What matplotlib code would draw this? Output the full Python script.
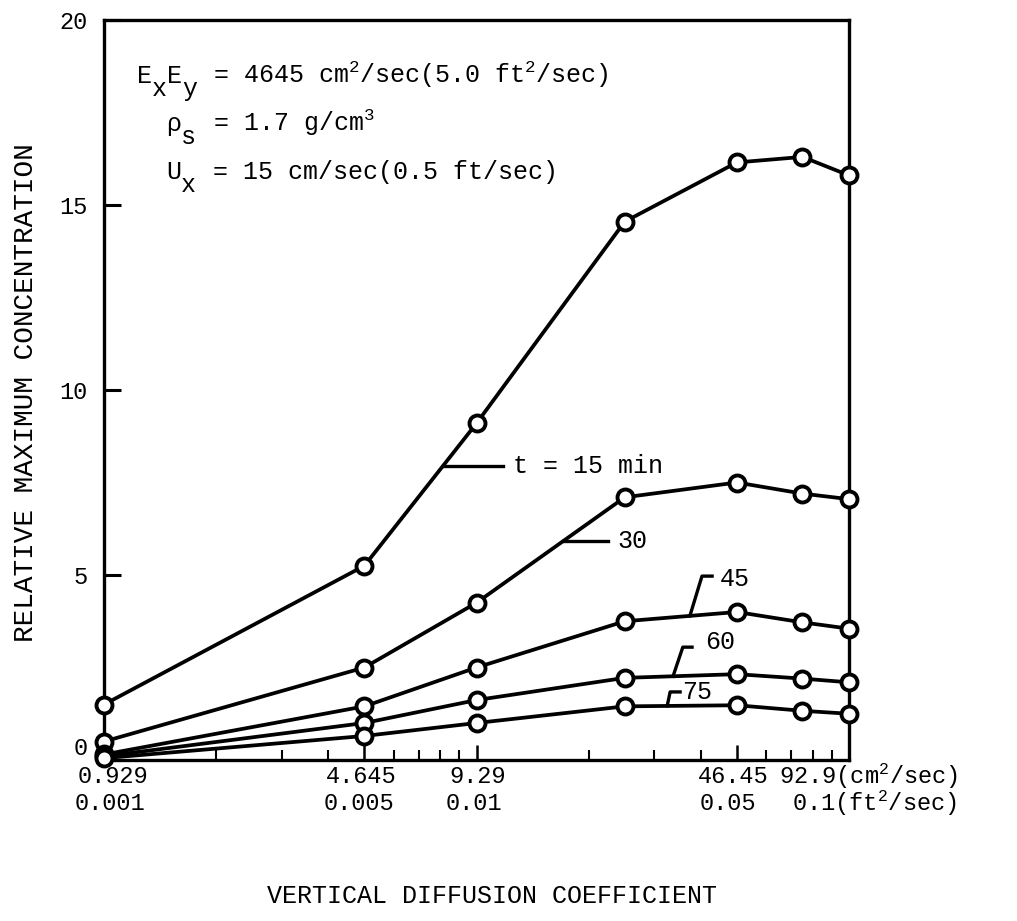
#!/usr/bin/env python3
import numpy as np
import matplotlib
matplotlib.use('Agg')
import matplotlib.pyplot as plt
from matplotlib.ticker import FixedLocator, NullFormatter
from matplotlib.transforms import ScaledTranslation

plt.rcParams['font.family'] = ['Liberation Mono', 'DejaVu Sans Mono']
plt.rcParams['mathtext.fontset'] = 'custom'
plt.rcParams['mathtext.rm'] = 'Liberation Mono'
plt.rcParams['mathtext.it'] = 'Liberation Mono'

# vertical diffusion coefficient (ft^2/sec)
x_ft = [0.001, 0.005, 0.01, 0.025, 0.05, 0.075, 0.1]

# relative maximum concentration for each time
conc_15 = [1.5, 5.25, 9.1, 14.55, 16.15, 16.3, 15.8]
conc_30 = [0.5, 2.5, 4.25, 7.1, 7.5, 7.2, 7.05]
conc_45 = [0.15, 1.45, 2.5, 3.75, 4.0, 3.72, 3.55]
conc_60 = [0.1, 1.0, 1.62, 2.22, 2.32, 2.2, 2.1]
conc_75 = [0.05, 0.65, 1.0, 1.45, 1.48, 1.33, 1.25]

# tick label text (two rows under the x axis)
cm_labels = ['0.929', '4.645', '9.29', '46.45']
ft_labels = ['0.001', '0.005', '0.01', '0.05']
ytick_vals = [0, 5, 10, 15, 20]

fig = plt.figure(figsize=(10.17, 9.21), dpi=100)
ax = fig.add_axes([0.1023, 0.1748, 0.7325, 0.8035])

curves = [conc_15, conc_30, conc_45, conc_60, conc_75]
for c in curves:
    ax.plot(x_ft, c, color='black', lw=2.7, marker='o', ms=11.5,
            mfc='white', mec='black', mew=2.8, clip_on=False, zorder=3)

ax.set_xscale('log')
ax.set_xlim(0.001, 0.1)
ax.set_ylim(0, 20)

# x ticks: labelled ones long, the rest short, all inward
ax.xaxis.set_major_locator(FixedLocator([0.001, 0.005, 0.01, 0.05, 0.1]))
minor = [m * d for d in (0.001, 0.01) for m in (2, 3, 4, 6, 7, 8, 9)]
ax.xaxis.set_minor_locator(FixedLocator(minor))
ax.xaxis.set_major_formatter(NullFormatter())
ax.xaxis.set_minor_formatter(NullFormatter())
ax.tick_params(axis='x', which='major', direction='in', length=11, width=1.8)
ax.tick_params(axis='x', which='minor', direction='in', length=7, width=1.5)

ax.set_yticks(ytick_vals)
ax.set_yticklabels([str(v) for v in ytick_vals], fontsize=17)
ax.tick_params(axis='y', direction='in', length=12, width=2.2, pad=12)
# the typed "0" sits a little above the axis line
lab0 = ax.get_yticklabels()[0]
lab0.set_transform(lab0.get_transform() + ScaledTranslation(0, 0.14, fig.dpi_scale_trans))

for s in ax.spines.values():
    s.set_linewidth(2.4)

# typed tick labels under the axis
row1_pos = [0.012, 0.345, 0.502, 0.845]
row2_pos = [0.008, 0.342, 0.497, 0.838]
for p, t in zip(row1_pos, cm_labels):
    ax.text(p, -0.022, t, transform=ax.transAxes, ha='center', va='center', fontsize=17)
for p, t in zip(row2_pos, ft_labels):
    ax.text(p, -0.059, t, transform=ax.transAxes, ha='center', va='center', fontsize=17)
ax.text(0.906, -0.022, r'92.9(cm$^\mathrm{2}$/sec)', transform=ax.transAxes,
        ha='left', va='center', fontsize=17)
ax.text(0.924, -0.059, r'0.1(ft$^\mathrm{2}$/sec)', transform=ax.transAxes,
        ha='left', va='center', fontsize=17)

fig.text(0.484, 0.027, 'VERTICAL DIFFUSION COEFFICIENT', ha='center', va='center', fontsize=18)
fig.text(0.026, 0.574, 'RELATIVE MAXIMUM CONCENTRATION', ha='center', va='center',
         rotation=90, fontsize=20)

# parameters (typewriter style: subscripts full size, dropped half a line)
ytr = ax.get_yaxis_transform()
drop = 0.36
col = 0.6 * 18 / 72 * 100 / (0.7325 * 1017)   # one monospace column in axes fraction
params = [(0.044, 18.3, ['E', 'x', 'E', 'y'], r'= 4645 cm$^\mathrm{2}$/sec(5.0 ft$^\mathrm{2}$/sec)'),
          (0.083, 17.0, ['ρ', 's'], r'= 1.7 g/cm$^\mathrm{3}$'),
          (0.083, 15.7, ['U', 'x'], r'= 15 cm/sec(0.5 ft/sec)')]
for xs, yb, chars, rest in params:
    for i, ch in enumerate(chars):
        yy = yb - drop if i % 2 else yb
        ax.text(xs + i * col, yy, ch, transform=ytr, ha='left', va='baseline', fontsize=18)
    ax.text(0.146, yb, rest, transform=ytr, ha='left', va='baseline', fontsize=18)


def on_curve(c, x):
    return np.interp(np.log10(x), np.log10(x_ft), c)


# t = 15 and 30: horizontal leaders
for c, x0, x1, label in [(conc_15, 0.00813, 0.0118, 't = 15 min'),
                         (conc_30, 0.0171, 0.0225, '30')]:
    y0 = on_curve(c, x0)
    ax.plot([x0, x1], [y0, y0], color='black', lw=2.4)
    ax.text(x1 * 1.06, y0, label, ha='left', va='center', fontsize=18)

# 45, 60, 75: bent leaders (curve point, elbow, hook end, text position)
bent = [(conc_45, 0.0374, 0.0403, 4.97, 0.0429, 0.0451, 4.9, '45'),
        (conc_60, 0.0337, 0.0358, 3.05, 0.0379, 0.0410, 3.2, '60'),
        (conc_75, 0.0325, 0.0331, 1.84, 0.0352, 0.0356, 1.84, '75')]
for c, x0, xe, ye, xh, xt, yt, label in bent:
    y0 = on_curve(c, x0)
    ax.plot([x0, xe, xh], [y0, ye, ye], color='black', lw=2.4)
    ax.text(xt, yt, label, ha='left', va='center', fontsize=18)

fig.savefig('out.png', dpi=100)
